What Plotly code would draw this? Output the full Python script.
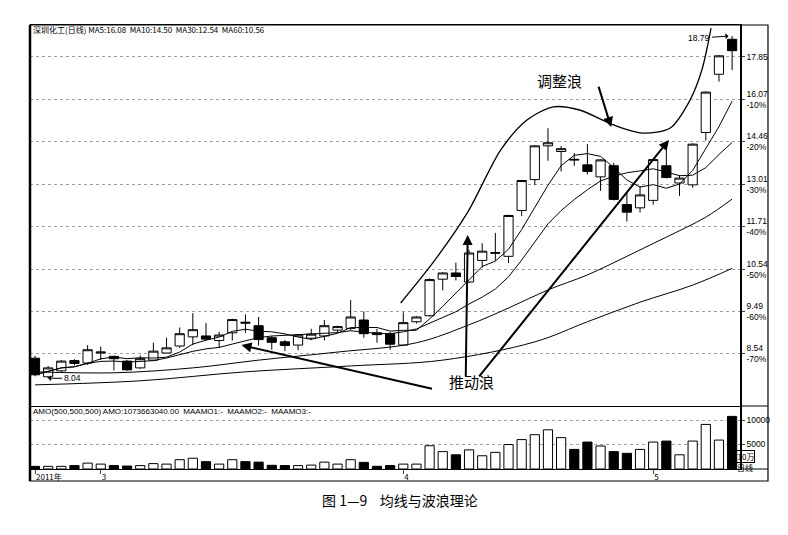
import numpy as np
import pandas as pd
import plotly.graph_objects as go

# daily candles, Feb-May 2011
opens = [8.45, 8.07, 8.19, 8.40, 8.35, 8.56, 8.49, 8.39, 8.25, 8.41,
         8.56, 8.71, 8.91, 8.93, 8.83, 9.00, 9.24, 9.16, 8.89, 8.80,
         8.73, 8.88, 8.93, 9.06, 9.10, 9.29, 9.00, 8.98, 8.73, 9.25,
         9.39, 10.28, 10.44, 10.21, 10.77, 10.96, 10.88, 12.19, 13.16, 14.31,
         14.11, 13.84, 13.65, 13.25, 13.62, 12.37, 12.27, 12.50, 13.62, 13.05,
         12.99, 14.79, 17.09, 18.64]
highs = [8.50, 8.29, 8.41, 8.43, 8.73, 8.70, 8.50, 8.41, 8.51, 8.78,
         8.89, 9.12, 9.45, 9.22, 9.02, 9.32, 9.42, 9.36, 8.93, 8.84,
         8.97, 9.09, 9.29, 9.16, 9.76, 9.49, 9.09, 9.02, 9.47, 9.38,
         10.30, 10.46, 10.71, 11.05, 11.24, 11.53, 12.06, 13.15, 14.33, 14.95,
         14.30, 14.06, 14.37, 13.84, 13.72, 12.75, 12.95, 13.85, 14.15, 13.30,
         14.40, 16.38, 17.92, 18.79]
lows = [8.08, 8.04, 8.17, 8.30, 8.31, 8.41, 8.20, 8.19, 8.23, 8.40,
        8.55, 8.67, 8.73, 8.85, 8.67, 8.83, 9.00, 8.72, 8.63, 8.60,
        8.62, 8.84, 8.83, 9.01, 9.05, 8.89, 8.78, 8.63, 8.71, 9.21,
        9.37, 10.00, 10.25, 10.18, 10.58, 10.76, 10.70, 12.02, 12.98, 13.79,
        13.43, 13.62, 13.33, 12.80, 12.50, 11.86, 12.13, 12.37, 13.20, 12.64,
        12.90, 14.50, 16.78, 17.27]
closes = [8.11, 8.25, 8.39, 8.34, 8.63, 8.58, 8.44, 8.21, 8.44, 8.60,
          8.67, 8.98, 9.07, 8.86, 8.95, 9.30, 9.22, 8.85, 8.79, 8.72,
          8.95, 8.97, 9.16, 9.14, 9.36, 8.98, 8.96, 8.75, 9.23, 9.36,
          10.27, 10.44, 10.35, 10.97, 11.02, 10.98, 12.04, 13.13, 14.31, 14.42,
          14.21, 13.82, 13.43, 13.82, 12.53, 12.14, 12.67, 13.83, 13.23, 13.21,
          14.37, 16.35, 17.89, 18.12]
# turnover (AMO), units of 10万
amo = [540, 540, 540, 700, 1200, 1000, 700, 600, 700, 1100,
       1000, 1900, 2200, 1500, 1000, 1900, 1500, 1400, 750, 700,
       700, 800, 1400, 1000, 1900, 1350, 550, 700, 1000, 1000,
       4750, 3550, 2900, 3900, 2700, 3400, 5000, 6000, 7000, 8000,
       6400, 4000, 5500, 4700, 3550, 3200, 4000, 5500, 5700, 2900,
       5700, 9100, 5900, 10737]

# longer moving averages, read at a few candles
ma30_idx = [0, 6, 12, 17, 23, 29, 33, 36, 39, 42, 45, 48, 51, 53]
ma30 = [8.17, 8.15, 8.25, 8.41, 8.58, 8.78, 9.18, 9.57, 10.01, 10.39, 10.88, 11.41, 11.99, 12.54]
ma60_idx = [0, 8, 16, 24, 31, 38, 42, 46, 50, 53]
ma60 = [7.91, 7.99, 8.17, 8.29, 8.41, 8.80, 9.25, 9.71, 10.13, 10.56]

# hand drawn wave curve (candle position, price)
wave_idx = [27.8, 30.3, 32.9, 35.4, 37.4, 39.4, 41.4, 44.0, 46.2, 48.3, 49.8, 50.7, 51.4]
wave_px = [9.69, 10.73, 12.14, 14.16, 15.26, 15.76, 15.64, 15.07, 14.77, 14.96, 16.03, 17.27, 19.16]

price_ticks = [8.54, 9.49, 10.54, 11.71, 13.01, 14.46, 16.07, 17.85]
price_labels = ["8.54<br>-70%", "9.49<br>-60%", "10.54<br>-50%", "11.71<br>-40%",
                "13.01<br>-30%", "14.46<br>-20%", "16.07<br>-10%", "17.85"]
month_ticks = [0, 5, 28, 47]
month_labels = ["2011年", "3", "4", "5"]

n = len(closes)
idx = list(range(n))
ma5 = pd.Series(closes).rolling(5, min_periods=1).mean()
ma10 = pd.Series(closes).rolling(10, min_periods=1).mean()
vol_col = ["white" if c >= o else "black" for o, c in zip(opens, closes)]

FONT = "Liberation Sans"
CJK = "Noto Sans CJK SC"

# the page body adds 8px, so the figure is 780x527 and sits at (8, 8)
# plot area on the page: x 30..740, y 25..469
def px(x):
    return (x - 30) / 710

def py(y):
    return (469 - y) / 444

fig = go.Figure()

fig.add_trace(go.Candlestick(
    x=idx, open=opens, high=highs, low=lows, close=closes,
    increasing=dict(line=dict(color="black", width=1), fillcolor="white"),
    decreasing=dict(line=dict(color="black", width=1), fillcolor="black"),
    whiskerwidth=0, xaxis="x", yaxis="y"))

for ma in (ma5, ma10):
    fig.add_trace(go.Scatter(x=idx, y=ma, mode="lines", line=dict(color="black", width=1),
                             xaxis="x", yaxis="y"))
fig.add_trace(go.Scatter(x=ma30_idx, y=ma30, mode="lines", line=dict(color="black", width=1, shape="spline"),
                         xaxis="x", yaxis="y"))
fig.add_trace(go.Scatter(x=ma60_idx, y=ma60, mode="lines", line=dict(color="black", width=1, shape="spline"),
                         xaxis="x", yaxis="y"))
fig.add_trace(go.Scatter(x=wave_idx, y=wave_px, mode="lines",
                         line=dict(color="black", width=1.3, shape="spline", smoothing=0.8),
                         xaxis="x", yaxis="y"))

fig.add_trace(go.Bar(x=idx, y=amo, marker=dict(color=vol_col, line=dict(color="black", width=1)),
                     width=0.7, xaxis="x2", yaxis="y2"))

xr = [-0.38, 53.6]
split = py(406)
fig.update_layout(
    width=780, height=527, showlegend=False,
    paper_bgcolor="white", plot_bgcolor="white",
    margin=dict(l=22, r=48, t=17, b=66),
    font=dict(family=FONT, size=9, color="black"),
    boxgap=0.3, boxgroupgap=0,
    xaxis=dict(domain=[0, 1], range=xr, anchor="y", showticklabels=False, showgrid=False,
               showline=True, mirror=True, linecolor="black", linewidth=1, zeroline=False,
               automargin=False, rangeslider=dict(visible=False)),
    yaxis=dict(domain=[split, 1], type="log", range=[0.8754, 1.2858], side="right",
               tickvals=price_ticks, ticktext=price_labels, ticks="outside", ticklen=3,
               showline=True, linecolor="black", linewidth=1.5, automargin=False,
               showgrid=True, gridcolor="#a0a0a0", griddash="dot", gridwidth=1,
               tickfont=dict(size=8.5, family=FONT), zeroline=False),
    xaxis2=dict(domain=[0, 1], range=xr, anchor="y2", matches="x", showgrid=False,
                tickvals=month_ticks, ticktext=month_labels, ticks="outside", ticklen=4,
                ticklabelposition="outside right", tickfont=dict(size=8, family=CJK),
                showline=True, linecolor="black", linewidth=1, zeroline=False, automargin=False),
    yaxis2=dict(domain=[0, split], range=[0, 12857], side="right",
                tickvals=[5000, 10000], ticktext=["5000", "10000"], ticks="outside", ticklen=3,
                showline=True, linecolor="black", linewidth=1.5, automargin=False,
                showgrid=True, gridcolor="#a0a0a0", griddash="dot", gridwidth=1,
                tickfont=dict(size=8.5, family=FONT), zeroline=False),
)

# frame lines
fig.add_shape(type="rect", xref="paper", yref="paper", x0=0, x1=px(768), y0=py(481), y1=1,
              line=dict(color="black", width=1.2))
fig.add_shape(type="line", xref="paper", yref="paper", x0=0, x1=0, y0=py(481), y1=1,
              line=dict(color="black", width=2.5))
fig.add_shape(type="line", xref="paper", yref="paper", x0=1, x1=px(768), y0=py(469), y1=py(469),
              line=dict(color="black", width=1))
fig.add_shape(type="line", xref="paper", yref="paper", x0=1, x1=px(768), y0=split, y1=split,
              line=dict(color="black", width=1))

ann = []
ann.append(dict(xref="paper", yref="paper", x=px(31), y=py(29.5), xanchor="left", yanchor="middle",
                text="深圳化工(日线) MA5:16.08  MA10:14.50  MA30:12.54  MA60:10.56",
                font=dict(size=8, family=CJK), showarrow=False))
ann.append(dict(xref="paper", yref="paper", x=px(31), y=py(411), xanchor="left", yanchor="middle",
                text="AMO(500,500,500) AMO:1073663040.00  MAAMO1:-  MAAMO2:-  MAAMO3:-",
                font=dict(size=8, family=FONT), showarrow=False))
ann.append(dict(xref="paper", yref="paper", x=px(755), y=py(463), text="X10万",
                font=dict(size=8, family=CJK), showarrow=False,
                bordercolor="black", borderwidth=1, borderpad=0))
ann.append(dict(xref="paper", yref="paper", x=px(755), y=py(475.5), text="日线",
                font=dict(size=8, family=CJK), showarrow=False))
# high / low labels
ann.append(dict(xref="x", yref="y", x=53 - 0.2, y=np.log10(highs[53]), text="18.79",
                ax=-30, ay=2, showarrow=True, arrowhead=1, arrowwidth=1, arrowcolor="black",
                standoff=1, font=dict(size=8.5, family=FONT)))
ann.append(dict(xref="x", yref="y", x=1, y=np.log10(lows[1]), text="8.04",
                ax=24, ay=0, showarrow=True, arrowhead=1, arrowwidth=1, arrowcolor="black",
                standoff=0, font=dict(size=8.5, family=FONT)))
# wave labels
ann.append(dict(xref="paper", yref="paper", x=px(584), y=py(68), text="调整浪",
                font=dict(size=15, family=CJK), showarrow=False))
ann.append(dict(xref="paper", yref="paper", x=px(472), y=py(394), text="推动浪",
                font=dict(size=15, family=CJK), showarrow=False))
arrow = dict(xref="x", yref="y", text="", showarrow=True, arrowhead=2, arrowsize=1,
             arrowwidth=2, arrowcolor="black")
ann.append(dict(arrow, x=43.8, y=np.log10(14.99), ax=-13, ay=-42))
ann.append(dict(arrow, x=15.7, y=np.log10(8.73), ax=192, ay=44))
ann.append(dict(arrow, x=32.9, y=np.log10(11.47), ax=-2, ay=143))
ann.append(dict(arrow, x=48.2, y=np.log10(14.52), ax=-191, ay=238))
# caption
ann.append(dict(xref="paper", yref="paper", x=px(400), y=py(512), text="图 1—9    均线与波浪理论",
                font=dict(size=14, family=CJK), showarrow=False))
fig.update_layout(annotations=ann)

fig.write_html("out.html")
